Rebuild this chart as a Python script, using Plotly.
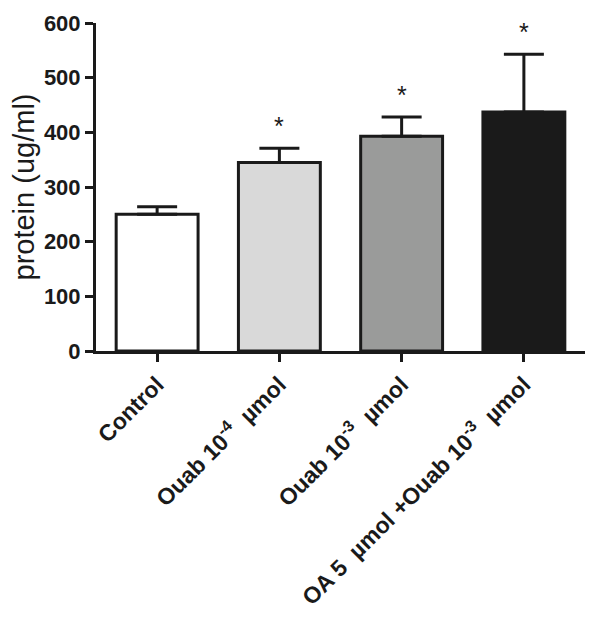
import plotly.graph_objects as go

# data
groups = [
    "Control",
    "Ouab 10<sup>-4</sup>\u00a0\u00a0µmol",
    "Ouab 10<sup>-3</sup>\u00a0\u00a0µmol",
    "OA 5\u00a0\u00a0µmol +Ouab 10<sup>-3</sup>\u00a0\u00a0µmol",
]
protein = [250, 345, 393, 437]
sem = [14, 26, 35, 106]
significant = [False, True, True, True]
fills = ["#ffffff", "#d9d9d9", "#9a9b9a", "#1a1a1a"]

ink = "#1a1a1a"
font = "Liberation Sans, Arial, sans-serif"

fig = go.Figure()
fig.add_trace(go.Bar(
    x=list(range(len(groups))),
    y=protein,
    width=0.67,
    marker=dict(color=fills, line=dict(color=ink, width=3)),
    error_y=dict(type="data", array=sem, arrayminus=[0] * len(sem),
                 symmetric=False, color=ink, thickness=3, width=20),
    showlegend=False,
))

# significance stars above the error bars
for i, (m, e, s) in enumerate(zip(protein, sem, significant)):
    if s:
        fig.add_annotation(x=i, y=m + e, text="*", showarrow=False,
                           yanchor="bottom", yshift=6,
                           font=dict(size=25, color=ink, family=font))

# page body adds 8px, so margins are shifted to compensate
fig.update_layout(
    width=600, height=625,
    margin=dict(l=88, r=23, t=15, b=282),
    plot_bgcolor="white", paper_bgcolor="white",
    font=dict(family=font, color=ink),
)
fig.update_xaxes(
    range=[-0.5, 3.5],
    tickmode="array", tickvals=list(range(len(groups))), ticktext=groups,
    tickangle=-45,
    tickfont=dict(size=23, family=font, color=ink, weight="bold"),
    showline=True, linecolor=ink, linewidth=3,
    ticks="outside", ticklen=8, tickwidth=3, tickcolor=ink,
    showgrid=False, zeroline=False, automargin=False,
)
fig.update_yaxes(
    range=[0, 600], dtick=100,
    tickfont=dict(size=22, family=font, color=ink, weight="bold"),
    title=dict(text="protein (ug/ml)", font=dict(size=29, family=font, color=ink),
               standoff=5),
    showline=True, linecolor=ink, linewidth=3,
    ticks="outside", ticklen=8, tickwidth=3, tickcolor=ink,
    showgrid=False, zeroline=False, automargin=False,
)

fig.write_html("out.html")
